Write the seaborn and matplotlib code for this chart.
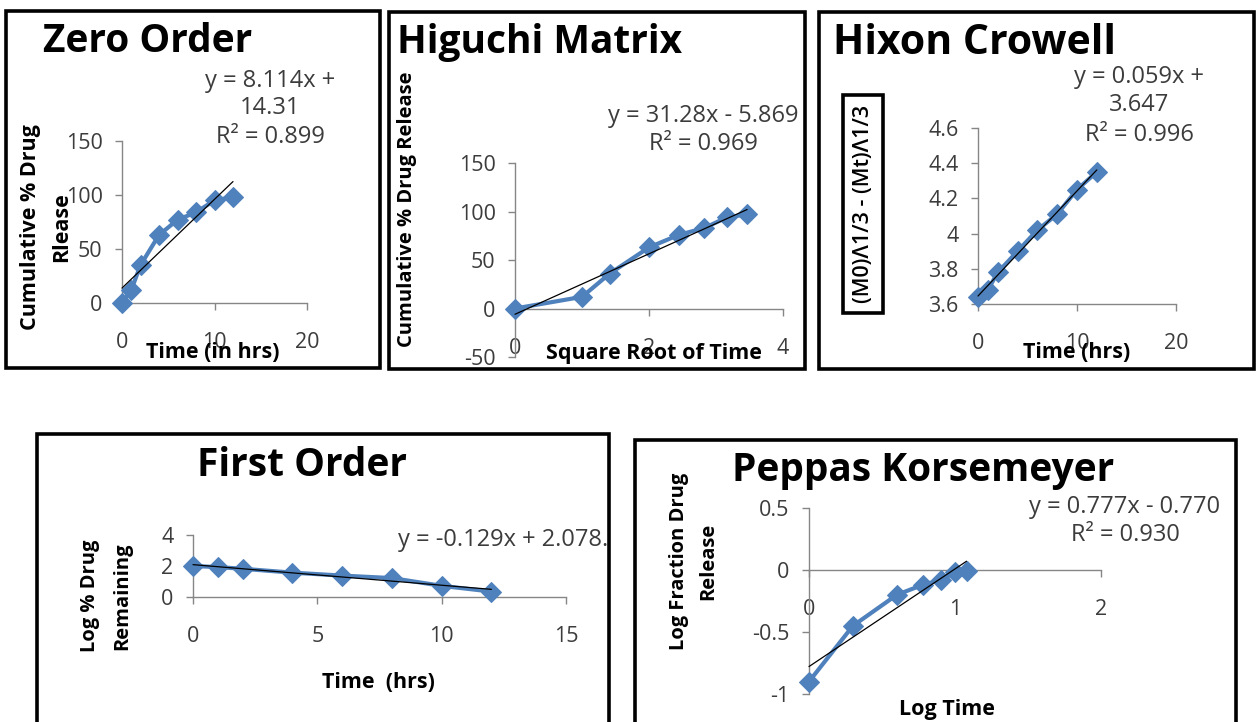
import matplotlib
matplotlib.use('Agg')
import matplotlib.pyplot as plt
import seaborn as sns
from matplotlib.patches import Rectangle
from matplotlib.ticker import FuncFormatter

# --- data ---
time_hrs = [0, 1, 2, 4, 6, 8, 10, 12]
cum_release = [0, 12, 35, 63, 77, 84, 95, 98]

sqrt_time = [0, 1, 1.414, 2, 2.449, 2.828, 3.162, 3.464]
higuchi_release = [0, 12, 36, 63, 76, 83, 94, 97]

hixon_values = [3.64, 3.68, 3.78, 3.90, 4.02, 4.11, 4.25, 4.35]

log_remaining = [2.0, 1.93, 1.82, 1.57, 1.38, 1.22, 0.72, 0.35]

log_time = [0, 0.301, 0.602, 0.778, 0.903, 1.0, 1.079]
log_fraction = [-0.90, -0.45, -0.20, -0.12, -0.08, -0.02, -0.01]

# --- look ---
sns.set_style('white')
plt.rcParams['font.family'] = ['Open Sans', 'DejaVu Sans']
plt.rcParams['axes.unicode_minus'] = False

BLUE = '#4f81bd'
AXIS_GREY = '#868686'
TEXT_GREY = '#3c3c3c'
W, H = 1257, 722

fig = plt.figure(figsize=(W / 100, H / 100), dpi=100)


def box(l, t, r, b):
    """pixel box (from top-left) -> figure fraction rect"""
    return [l / W, 1 - b / H, (r - l) / W, (b - t) / H]


def px(x, y):
    return x / W, 1 - y / H


def frame(l, t, r, b):
    x0, y1 = px(l, t)
    x1, y0 = px(r, b)
    fig.patches.append(Rectangle((x0, y0), x1 - x0, y1 - y0, transform=fig.transFigure,
                                 fill=False, ec='black', lw=2.6, zorder=0))


def draw_panel(rect, x, y, xlim, ylim, xticks, yticks, cross_zero=False):
    ax = fig.add_axes(box(*rect))
    sns.lineplot(x=x, y=y, ax=ax, color=BLUE, lw=3, marker='D', markersize=10,
                 markeredgecolor=BLUE, clip_on=False, zorder=3)
    sns.regplot(x=x, y=y, ax=ax, scatter=False, ci=None, truncate=True,
                color='black', line_kws={'lw': 0.9, 'zorder': 4, 'clip_on': False})
    ax.set_xlim(xlim)
    ax.set_ylim(ylim)
    ax.set_xticks(xticks)
    ax.set_yticks(yticks)
    ax.xaxis.set_major_formatter(FuncFormatter(lambda v, p: f'{v:g}'))
    ax.yaxis.set_major_formatter(FuncFormatter(lambda v, p: f'{v:g}'))
    for side in ['top', 'right']:
        ax.spines[side].set_visible(False)
    for side in ['left', 'bottom']:
        ax.spines[side].set_color(AXIS_GREY)
        ax.spines[side].set_linewidth(1)
    if cross_zero:
        ax.spines['bottom'].set_position(('data', 0))
    ax.tick_params(axis='both', direction='out', length=5, width=1, color=AXIS_GREY,
                   labelcolor=TEXT_GREY, labelsize=15.5, bottom=True, left=True)
    ax.tick_params(axis='x', pad=16)
    ax.tick_params(axis='y', pad=9)
    ax.set_facecolor('none')
    ax.set_xlabel('')
    ax.set_ylabel('')
    return ax


def label(x, y, s, size=15.5, weight='bold', rot=0, ha='center', color='black', **kw):
    fig.text(*px(x, y), s, fontsize=size, fontweight=weight,
             rotation=rot, ha=ha, va='center', color=color, **kw)


def title(x, y, s, ha='left', size=28):
    label(x, y, s, size=size, ha=ha)


def equation(x, lines, size=17, ha='center'):
    for yy, s in lines:
        label(x, yy, s, size=size, weight='normal', ha=ha, color=TEXT_GREY)


# Zero Order
frame(6, 11, 380, 368)
draw_panel((122, 141, 307, 303), time_hrs, cum_release, (0, 20), (0, 150), [0, 10, 20], [0, 50, 100, 150])
title(43, 42, 'Zero Order')
equation(270, [(81, 'y = 8.114x +'), (108, '14.31'), (137, 'R² = 0.899')])
label(31, 227, 'Cumulative % Drug', rot=90)
label(62, 227, 'Rlease', rot=90)
label(213, 353, 'Time (in hrs)')

# Higuchi Matrix
frame(389, 12, 805, 369)
draw_panel((515, 163, 783, 357), sqrt_time, higuchi_release, (0, 4), (-50, 150), [0, 2, 4],
           [-50, 0, 50, 100, 150], cross_zero=True)
title(397, 43, 'Higuchi Matrix')
equation(703, [(116, 'y = 31.28x - 5.869'), (144, 'R² = 0.969')])
label(407, 209, 'Cumulative % Drug Release', rot=90, size=14.5)
label(654, 353, 'Square Root of Time')

# Hixon Crowell
frame(819, 12, 1254, 369)
draw_panel((978, 128, 1176, 304), time_hrs, hixon_values, (0, 20), (3.6, 4.6), [0, 10, 20],
           [3.6, 3.8, 4.0, 4.2, 4.4, 4.6])
title(833, 43, 'Hixon Crowell', size=29.5)
equation(1139, [(77, 'y = 0.059x +'), (105, '3.647'), (135, 'R² = 0.996')])
label(863, 204, '(M0)Λ1/3 - (Mt)Λ1/3', rot=90, size=15.5, weight='semibold',
      bbox=dict(boxstyle='square,pad=0.45', fc='white', ec='black', lw=2.6))
label(1077, 353, 'Time (hrs)')

# First Order
frame(37, 434, 609, 740)
draw_panel((193, 535, 566, 597), time_hrs, log_remaining, (0, 15), (0, 4), [0, 5, 10, 15], [0, 2, 4])
title(302, 466, 'First Order', ha='center')
equation(398, [(540, 'y = -0.129x + 2.078.')], ha='left')
label(90, 596, 'Log % Drug', rot=90, size=14.5)
label(122, 596, 'Remaining', rot=90, size=14.5)
label(378, 683, 'Time  (hrs)')

# Peppas Korsemeyer
frame(635, 440, 1236, 740)
draw_panel((809, 508, 1101, 694), log_time, log_fraction, (0, 2), (-1, 0.5), [0, 1, 2],
           [-1, -0.5, 0, 0.5], cross_zero=True)
title(923, 470, 'Peppas Korsemeyer', ha='center')
equation(1125, [(507, 'y = 0.777x - 0.770'), (535, 'R² = 0.930')])
label(679, 561, 'Log Fraction Drug', rot=90, size=14.5)
label(708, 561, 'Release', rot=90, size=14.5)
label(947, 709, 'Log Time')

fig.savefig('out.png', dpi=100, facecolor='white')
